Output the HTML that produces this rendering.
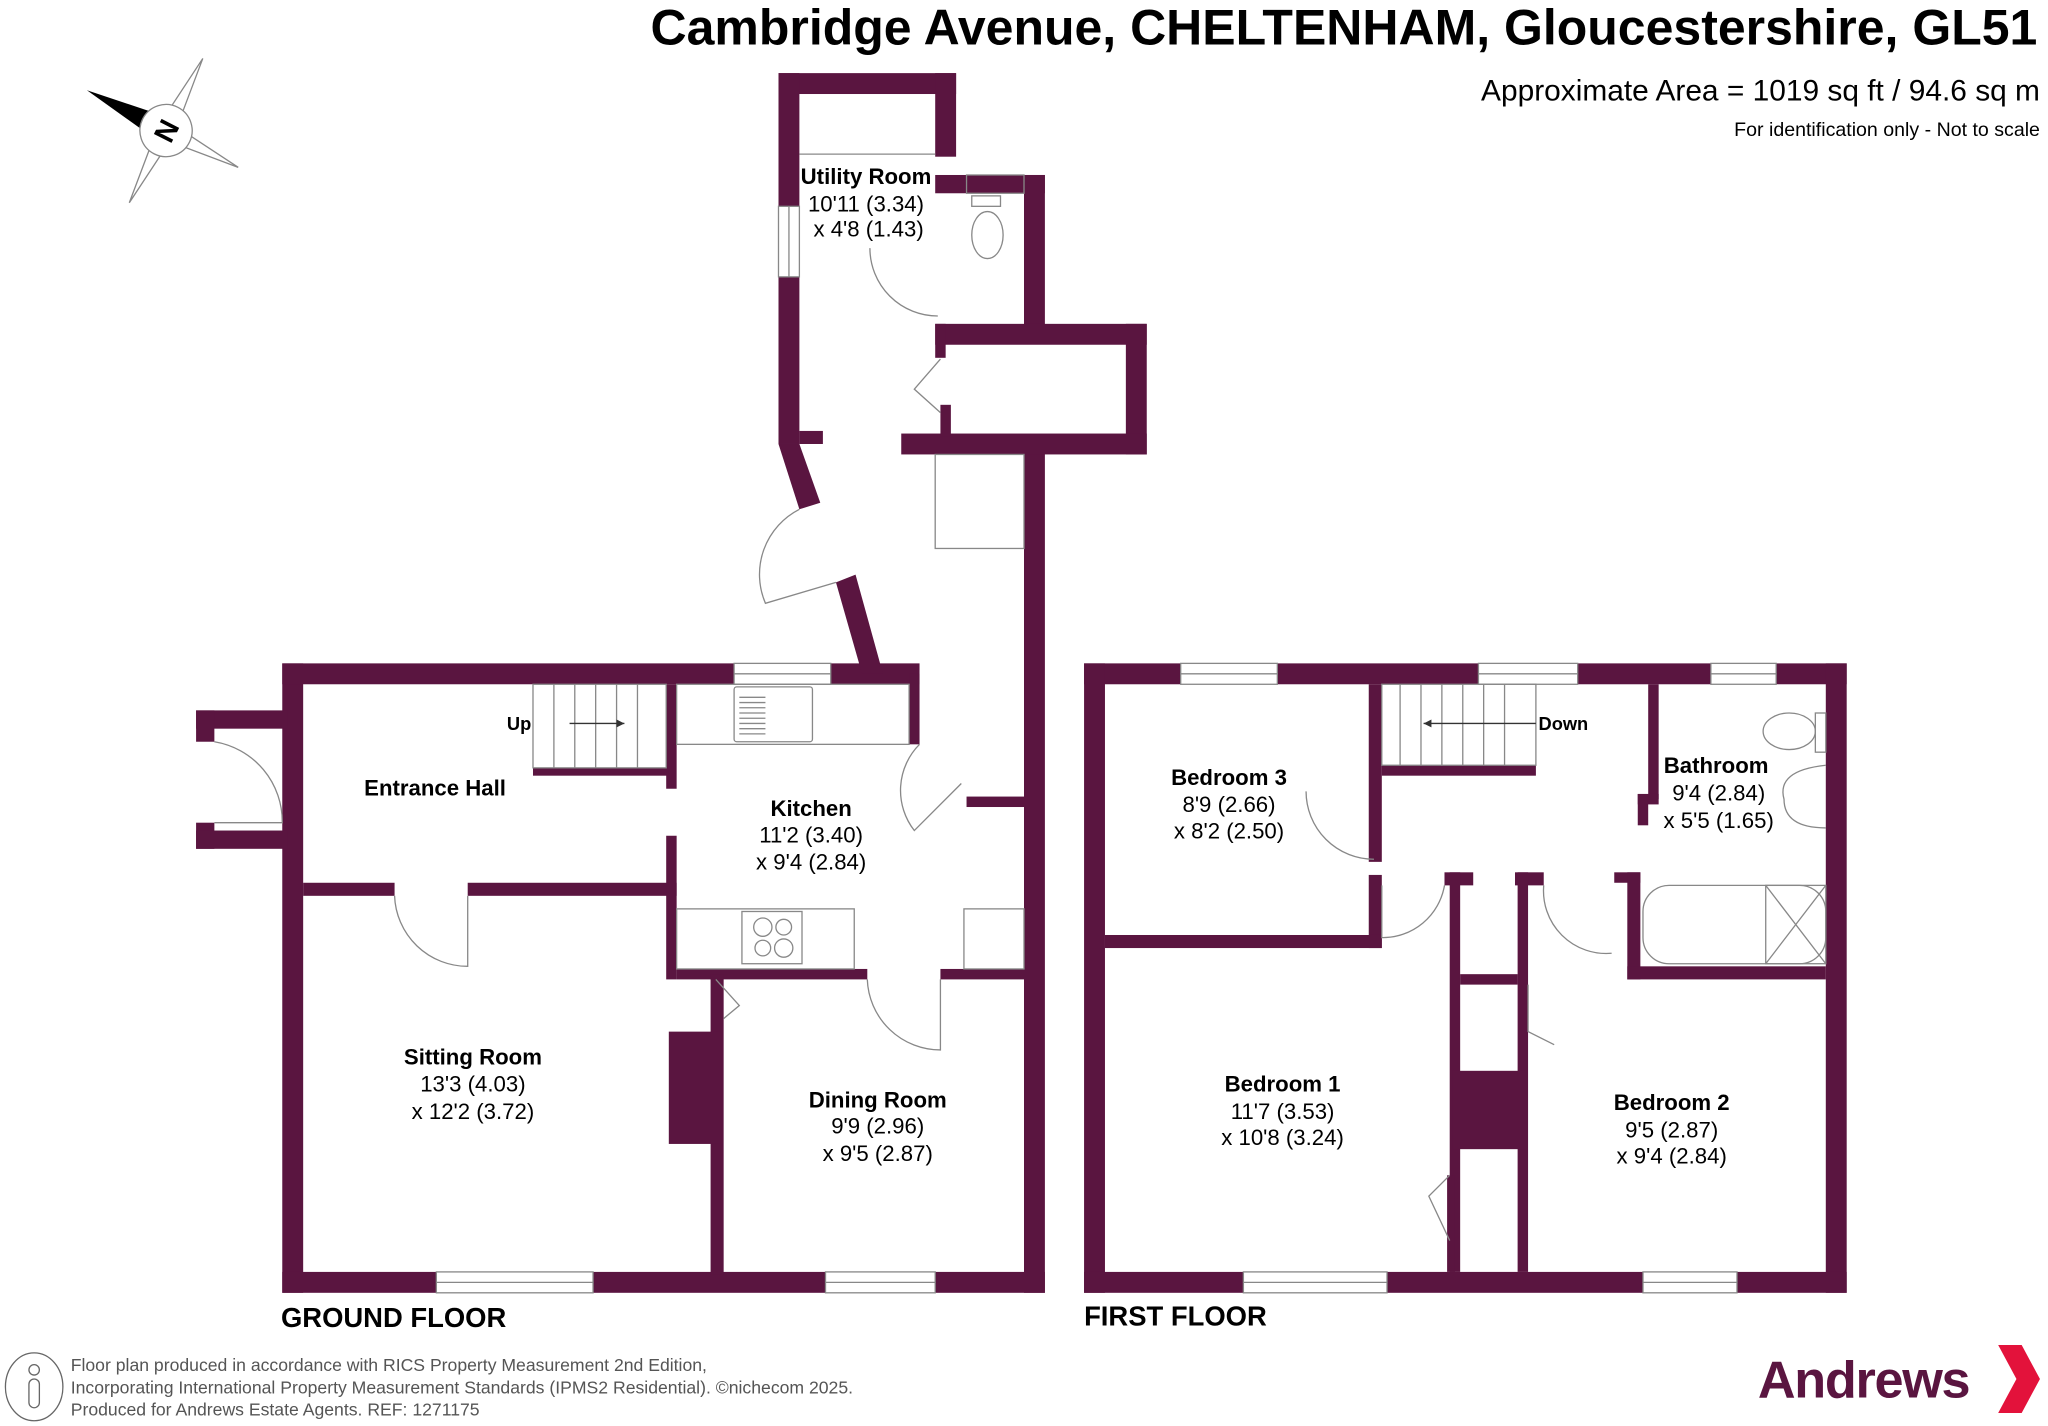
<!DOCTYPE html>
<html><head><meta charset="utf-8"><style>
html,body{margin:0;padding:0;background:#fff;}
svg{display:block}
text{font-family:"Liberation Sans",Arial,sans-serif;fill:#000}
.b{font-weight:bold}
</style></head><body>
<svg width="2048" height="1426" viewBox="0 0 1568 1092" xmlns="http://www.w3.org/2000/svg">
<g fill="#5a1540">
<rect x="216" y="508" width="16" height="482"/>
<rect x="216" y="974" width="118" height="16"/>
<rect x="454" y="974" width="178" height="16"/>
<rect x="716" y="974" width="84" height="16"/>
<rect x="784" y="340" width="16" height="650"/>
<rect x="216" y="508" width="346" height="16"/>
<rect x="636" y="508" width="68" height="16"/>
<rect x="696" y="516" width="8" height="54"/>
<rect x="740" y="610" width="44" height="8"/>
<rect x="150" y="544" width="70" height="14"/>
<rect x="150" y="544" width="14" height="24"/>
<rect x="150" y="630" width="14" height="20"/>
<rect x="150" y="636" width="70" height="14"/>
<rect x="232" y="676" width="70" height="10"/>
<rect x="358" y="676" width="160" height="10"/>
<rect x="510" y="524" width="8" height="80"/>
<rect x="510" y="640" width="8" height="110"/>
<rect x="518" y="742" width="146" height="8"/>
<rect x="720" y="742" width="64" height="8"/>
<rect x="544" y="746" width="10" height="230"/>
<rect x="512" y="790" width="40" height="86"/>
<rect x="408" y="588" width="104" height="6"/>
<rect x="596" y="56" width="136" height="16"/>
<rect x="596" y="56" width="16" height="102"/>
<rect x="596" y="212" width="16" height="128"/>
<rect x="716" y="56" width="16" height="64"/>
<rect x="716" y="134" width="84" height="14"/>
<rect x="784" y="134" width="16" height="118"/>
<rect x="716" y="248" width="162" height="16"/>
<rect x="716" y="248" width="8" height="26"/>
<rect x="862" y="248" width="16" height="100"/>
<rect x="690" y="332" width="188" height="16"/>
<rect x="720" y="310" width="8" height="24"/>
<rect x="612" y="330" width="18" height="10"/>
<polygon points="596,340 612,340 628,385 612,390"/>
<polygon points="640,446 655,440 676,516 660,516"/>
<rect x="830" y="508" width="74" height="16"/>
<rect x="978" y="508" width="154" height="16"/>
<rect x="1208" y="508" width="102" height="16"/>
<rect x="1360" y="508" width="54" height="16"/>
<rect x="830" y="508" width="16" height="482"/>
<rect x="1398" y="508" width="16" height="482"/>
<rect x="830" y="974" width="122" height="16"/>
<rect x="1062" y="974" width="196" height="16"/>
<rect x="1330" y="974" width="84" height="16"/>
<rect x="1048" y="524" width="10" height="136"/>
<rect x="1048" y="670" width="10" height="56"/>
<rect x="846" y="716" width="212" height="10"/>
<rect x="1058" y="586" width="118" height="8"/>
<rect x="1262" y="524" width="8" height="88"/>
<rect x="1254" y="608" width="16" height="8"/>
<rect x="1254" y="608" width="8" height="24"/>
<rect x="1236" y="668" width="20" height="8"/>
<rect x="1246" y="668" width="10" height="82"/>
<rect x="1246" y="740" width="152" height="10"/>
<rect x="1106" y="668" width="22" height="10"/>
<rect x="1160" y="668" width="22" height="10"/>
<rect x="1110" y="668" width="8" height="306"/>
<rect x="1162" y="668" width="8" height="306"/>
<rect x="1118" y="746" width="44" height="8"/>
<rect x="1112" y="820" width="56" height="60"/>
<rect x="1108" y="900" width="6" height="74"/>
</g>
<g fill="none" stroke="#888" stroke-width="1">
<rect x="334" y="974" width="120" height="16"/><line x1="334" y1="982" x2="454" y2="982"/>
<rect x="632" y="974" width="84" height="16"/><line x1="632" y1="982" x2="716" y2="982"/>
<rect x="562" y="508" width="74" height="16"/><line x1="562" y1="516" x2="636" y2="516"/>
<rect x="596" y="158" width="16" height="54"/><line x1="604" y1="158" x2="604" y2="212"/>
<rect x="740" y="134" width="44" height="14"/>
<rect x="904" y="508" width="74" height="16"/><line x1="904" y1="516" x2="978" y2="516"/>
<rect x="1132" y="508" width="76" height="16"/><line x1="1132" y1="516" x2="1208" y2="516"/>
<rect x="1310" y="508" width="50" height="16"/><line x1="1310" y1="516" x2="1360" y2="516"/>
<rect x="952" y="974" width="110" height="16"/><line x1="952" y1="982" x2="1062" y2="982"/>
<rect x="1258" y="974" width="72" height="16"/><line x1="1258" y1="982" x2="1330" y2="982"/>
<line x1="612" y1="118" x2="716" y2="118"/>
<rect x="716" y="348" width="68" height="72"/>
<rect x="518" y="524" width="178" height="46"/>
<rect x="562" y="526" width="60" height="42" rx="2"/>
<path d="M566 534h20M566 538h20M566 542h20M566 546h20M566 550h20M566 554h20M566 558h20M566 562h20"/>
<rect x="518" y="696" width="136" height="46"/>
<rect x="568" y="698" width="46" height="40"/>
<circle cx="584" cy="710" r="7"/><circle cx="600" cy="710" r="6"/><circle cx="584" cy="726" r="6"/><circle cx="600" cy="726" r="7"/>
<rect x="738" y="696" width="46" height="46"/>
<ellipse cx="756" cy="180" rx="12" ry="18"/><rect x="744" y="150" width="22" height="8"/>
<rect x="408" y="524" width="102" height="64"/>
<path d="M424 524V588M440 524V588M456 524V588M472 524V588M488 524V588"/>
<rect x="1058" y="524" width="118" height="62"/>
<path d="M1072 524V586M1088 524V586M1104 524V586M1120 524V586M1136 524V586M1152 524V586"/>
<rect x="1258" y="678" width="140" height="60" rx="20"/>
<rect x="1352" y="678" width="46" height="60"/>
<line x1="1352" y1="678" x2="1398" y2="738"/><line x1="1398" y1="678" x2="1352" y2="738"/>
<ellipse cx="1370" cy="560" rx="20" ry="14"/><rect x="1390" y="546" width="8" height="30"/>
<path d="M1398 586 Q1360 590 1366 612 Q1366 634 1398 634"/>
<path d="M164 568 A62 62 0 0 1 216 630 L164 630"/>
<path d="M302 686 A56 56 0 0 0 358 740 L358 686"/>
<path d="M664 750 A56 56 0 0 0 720 804 L720 750"/>
<path d="M704 570 A50 50 0 0 0 700 636 L736 600"/>
<path d="M666 190 A52 52 0 0 0 718 242"/>
<path d="M612 390 A56 56 0 0 0 586 462 L640 446"/>
<path d="M1000 606 A52 52 0 0 0 1052 658"/>
<path d="M1058 678 L1058 718 A48 48 0 0 0 1106 678"/>
<path d="M1182 678 A48 48 0 0 0 1234 730"/>
<path d="M720 275 L700 298 L720 316"/>
<path d="M1170 754 L1170 790 L1190 800"/>
<path d="M1110 900 L1094 916 L1110 950"/>
<path d="M548 750 L566 770 L554 780"/>
</g>
<line x1="436" y1="554" x2="478" y2="554" stroke="#333"/><path d="M478 554 l-6 -3 v6z" fill="#333"/>
<line x1="1090" y1="554" x2="1176" y2="554" stroke="#333"/><path d="M1090 554 l6 -3 v6z" fill="#333"/>
<g transform="translate(127,100) rotate(27)">
<polygon points="0,-62 6,-8 0,0 -6,-8" fill="#fff" stroke="#888"/>
<polygon points="0,62 6,8 0,0 -6,8" fill="#fff" stroke="#888"/>
<polygon points="62,0 8,6 0,0 8,-6" fill="#fff" stroke="#888"/>
<polygon points="-68,0 -8,9 0,0 -8,-9" fill="#000"/>
<circle r="20" fill="#fff" stroke="#888"/>
<text x="0" y="8" font-size="22" class="b" text-anchor="middle" transform="rotate(-90)">N</text>
</g>
<text x="1560" y="34" font-size="38" class="b" text-anchor="end" textLength="1062" lengthAdjust="spacingAndGlyphs">Cambridge Avenue, CHELTENHAM, Gloucestershire, GL51</text>
<text x="1562" y="77" font-size="23" text-anchor="end" textLength="428" lengthAdjust="spacingAndGlyphs">Approximate Area = 1019 sq ft / 94.6 sq m</text>
<text x="1562" y="104" font-size="15" text-anchor="end">For identification only - Not to scale</text>
<g font-size="17" text-anchor="middle">
<text x="663" y="141" class="b">Utility Room</text><text x="663" y="162">10'11 (3.34)</text><text x="665" y="181">x 4'8 (1.43)</text>
<text x="333" y="609" class="b">Entrance Hall</text>
<text x="621" y="625" class="b">Kitchen</text><text x="621" y="645">11'2 (3.40)</text><text x="621" y="666">x 9'4 (2.84)</text>
<text x="362" y="815" class="b">Sitting Room</text><text x="362" y="836">13'3 (4.03)</text><text x="362" y="857">x 12'2 (3.72)</text>
<text x="672" y="848" class="b">Dining Room</text><text x="672" y="868">9'9 (2.96)</text><text x="672" y="889">x 9'5 (2.87)</text>
<text x="941" y="601" class="b">Bedroom 3</text><text x="941" y="622">8'9 (2.66)</text><text x="941" y="642">x 8'2 (2.50)</text>
<text x="1314" y="592" class="b">Bathroom</text><text x="1316" y="613">9'4 (2.84)</text><text x="1316" y="634">x 5'5 (1.65)</text>
<text x="982" y="836" class="b">Bedroom 1</text><text x="982" y="857">11'7 (3.53)</text><text x="982" y="877">x 10'8 (3.24)</text>
<text x="1280" y="850" class="b">Bedroom 2</text><text x="1280" y="871">9'5 (2.87)</text><text x="1280" y="891">x 9'4 (2.84)</text>
</g>
<text x="388" y="559" font-size="14" class="b">Up</text>
<text x="1178" y="559" font-size="14" class="b">Down</text>
<text x="215" y="1016" font-size="21" class="b">GROUND FLOOR</text>
<text x="830" y="1015" font-size="21" class="b">FIRST FLOOR</text>
<g font-size="13.5">
<text x="54" y="1050" style="fill:#555">Floor plan produced in accordance with RICS Property Measurement 2nd Edition,</text>
<text x="54" y="1067" style="fill:#555">Incorporating International Property Measurement Standards (IPMS2 Residential).   ©nichecom 2025.</text>
<text x="54" y="1084" style="fill:#555">Produced for Andrews Estate Agents.   REF: 1271175</text>
</g>
<ellipse cx="26" cy="1062" rx="22" ry="26" fill="none" stroke="#666"/>
<rect x="22" y="1056" width="8" height="22" rx="4" fill="none" stroke="#666"/><circle cx="26" cy="1049" r="4" fill="none" stroke="#666"/>
<text x="1346" y="1070" font-size="40" class="b" style="fill:#5a1540;letter-spacing:-1px">Andrews</text>
<polygon points="1530,1030 1548,1030 1562,1056 1548,1082 1530,1082 1544,1056" fill="#e3123b"/>
</svg>
</body></html>
